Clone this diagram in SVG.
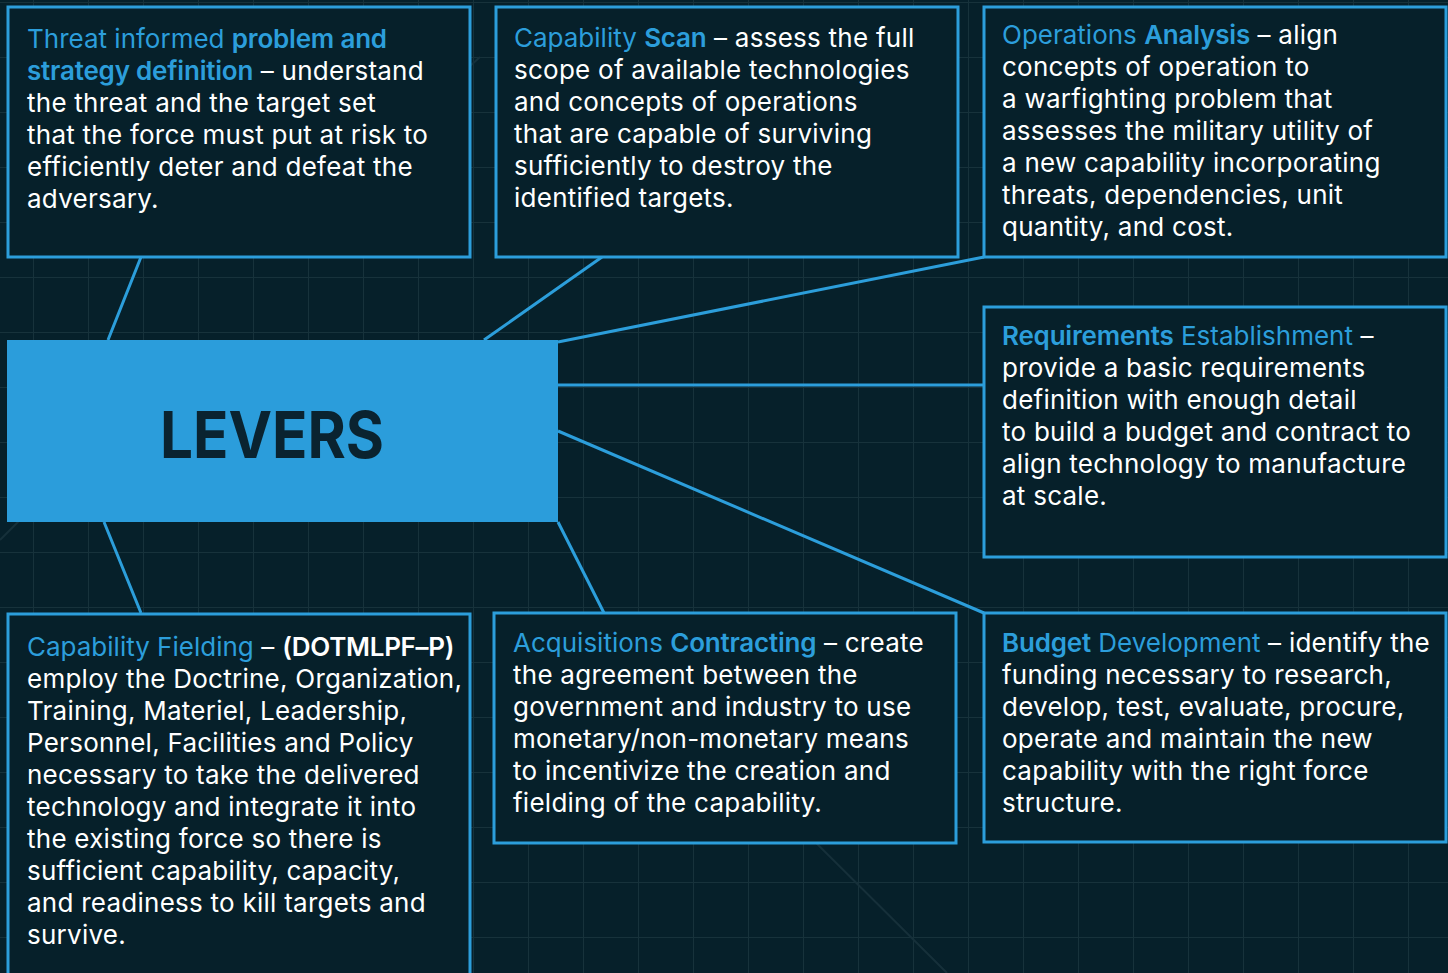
<svg xmlns="http://www.w3.org/2000/svg" width="1448" height="973" viewBox="0 0 1448 973">
<defs>
<pattern id="grid" x="33" y="2" width="55" height="55" patternUnits="userSpaceOnUse">
<path d="M0 0H55M0 0V55" fill="none" stroke="#17323b" stroke-width="2"/>
</pattern>
<style>
.box{fill:#06202a;stroke:#2c9edb;stroke-width:3}
.conn{stroke:#2c9edb;stroke-width:3;fill:none}
.t{font-family:Inter,"Liberation Sans",sans-serif;font-size:26px;letter-spacing:0.25px;fill:#ffffff}
.b{fill:#2c9edb;letter-spacing:0}
.bb{fill:#2c9edb;font-weight:600;letter-spacing:-0.2px}
.w{font-weight:600;letter-spacing:-0.3px}
.faint{stroke:#16303a;stroke-width:2;fill:none}
</style>
</defs>
<rect width="1448" height="973" fill="#06202a"/>
<rect width="1448" height="973" fill="url(#grid)"/>
<g id="bg-lines">
<path class="faint" d="M260 257L480 57M793 820L947 973M0 540L30 510"/>
</g>
<g id="connectors">
<path class="conn" d="M108 340L141 257M484 340L602 257M558 342L984 257M558 385H984M558 431L984 613M558 522L604 613M104 522L141 613"/>
</g>
<g id="levers">
<rect x="7" y="340" width="551" height="182" fill="#2b9ddb"/>
<text x="272" y="458" text-anchor="middle" font-family="Inter,'Liberation Sans',sans-serif" font-weight="700" font-size="64" fill="#0a2330" textLength="224" lengthAdjust="spacingAndGlyphs">LEVERS</text>
</g>
<g id="threat">
<rect class="box" x="8" y="7" width="462" height="250"/>
<text class="t" x="27" y="48"><tspan class="b">Threat informed </tspan><tspan class="bb">problem and</tspan></text>
<text class="t" x="27" y="80"><tspan class="bb">strategy definition</tspan> – understand</text>
<text class="t" x="27" y="112">the threat and the target set</text>
<text class="t" x="27" y="144">that the force must put at risk to</text>
<text class="t" x="27" y="176">efficiently deter and defeat the</text>
<text class="t" x="27" y="208">adversary.</text>
</g>
<g id="scan">
<rect class="box" x="496" y="7" width="462" height="250"/>
<text class="t" x="514" y="47"><tspan class="b">Capability </tspan><tspan class="bb">Scan</tspan> – assess the full</text>
<text class="t" x="514" y="79">scope of available technologies</text>
<text class="t" x="514" y="111">and concepts of operations</text>
<text class="t" x="514" y="143">that are capable of surviving</text>
<text class="t" x="514" y="175">sufficiently to destroy the</text>
<text class="t" x="514" y="207">identified targets.</text>
</g>
<g id="operations">
<rect class="box" x="984" y="7" width="462" height="250"/>
<text class="t" x="1002" y="44"><tspan class="b">Operations </tspan><tspan class="bb">Analysis</tspan> – align</text>
<text class="t" x="1002" y="76">concepts of operation to</text>
<text class="t" x="1002" y="108">a warfighting problem that</text>
<text class="t" x="1002" y="140">assesses the military utility of</text>
<text class="t" x="1002" y="172">a new capability incorporating</text>
<text class="t" x="1002" y="204">threats, dependencies, unit</text>
<text class="t" x="1002" y="236">quantity, and cost.</text>
</g>
<g id="requirements">
<rect class="box" x="984" y="307" width="462" height="250"/>
<text class="t" x="1002" y="345"><tspan class="bb">Requirements</tspan><tspan class="b"> Establishment</tspan> –</text>
<text class="t" x="1002" y="377">provide a basic requirements</text>
<text class="t" x="1002" y="409">definition with enough detail</text>
<text class="t" x="1002" y="441">to build a budget and contract to</text>
<text class="t" x="1002" y="473">align technology to manufacture</text>
<text class="t" x="1002" y="505">at scale.</text>
</g>
<g id="fielding">
<rect class="box" x="8" y="614" width="462" height="380"/>
<text class="t" x="27" y="656"><tspan class="b">Capability Fielding</tspan> – <tspan class="w">(DOTMLPF–P)</tspan></text>
<text class="t" x="27" y="688">employ the Doctrine, Organization,</text>
<text class="t" x="27" y="720">Training, Materiel, Leadership,</text>
<text class="t" x="27" y="752">Personnel, Facilities and Policy</text>
<text class="t" x="27" y="784">necessary to take the delivered</text>
<text class="t" x="27" y="816">technology and integrate it into</text>
<text class="t" x="27" y="848">the existing force so there is</text>
<text class="t" x="27" y="880">sufficient capability, capacity,</text>
<text class="t" x="27" y="912">and readiness to kill targets and</text>
<text class="t" x="27" y="944">survive.</text>
</g>
<g id="acquisitions">
<rect class="box" x="494" y="613" width="462" height="230"/>
<text class="t" x="513" y="652"><tspan class="b">Acquisitions </tspan><tspan class="bb">Contracting</tspan> – create</text>
<text class="t" x="513" y="684">the agreement between the</text>
<text class="t" x="513" y="716">government and industry to use</text>
<text class="t" x="513" y="748">monetary/non-monetary means</text>
<text class="t" x="513" y="780">to incentivize the creation and</text>
<text class="t" x="513" y="812">fielding of the capability.</text>
</g>
<g id="budget">
<rect class="box" x="984" y="613" width="462" height="229"/>
<text class="t" x="1002" y="652"><tspan class="bb">Budget</tspan><tspan class="b"> Development</tspan> – identify the</text>
<text class="t" x="1002" y="684">funding necessary to research,</text>
<text class="t" x="1002" y="716">develop, test, evaluate, procure,</text>
<text class="t" x="1002" y="748">operate and maintain the new</text>
<text class="t" x="1002" y="780">capability with the right force</text>
<text class="t" x="1002" y="812">structure.</text>
</g>
</svg>
